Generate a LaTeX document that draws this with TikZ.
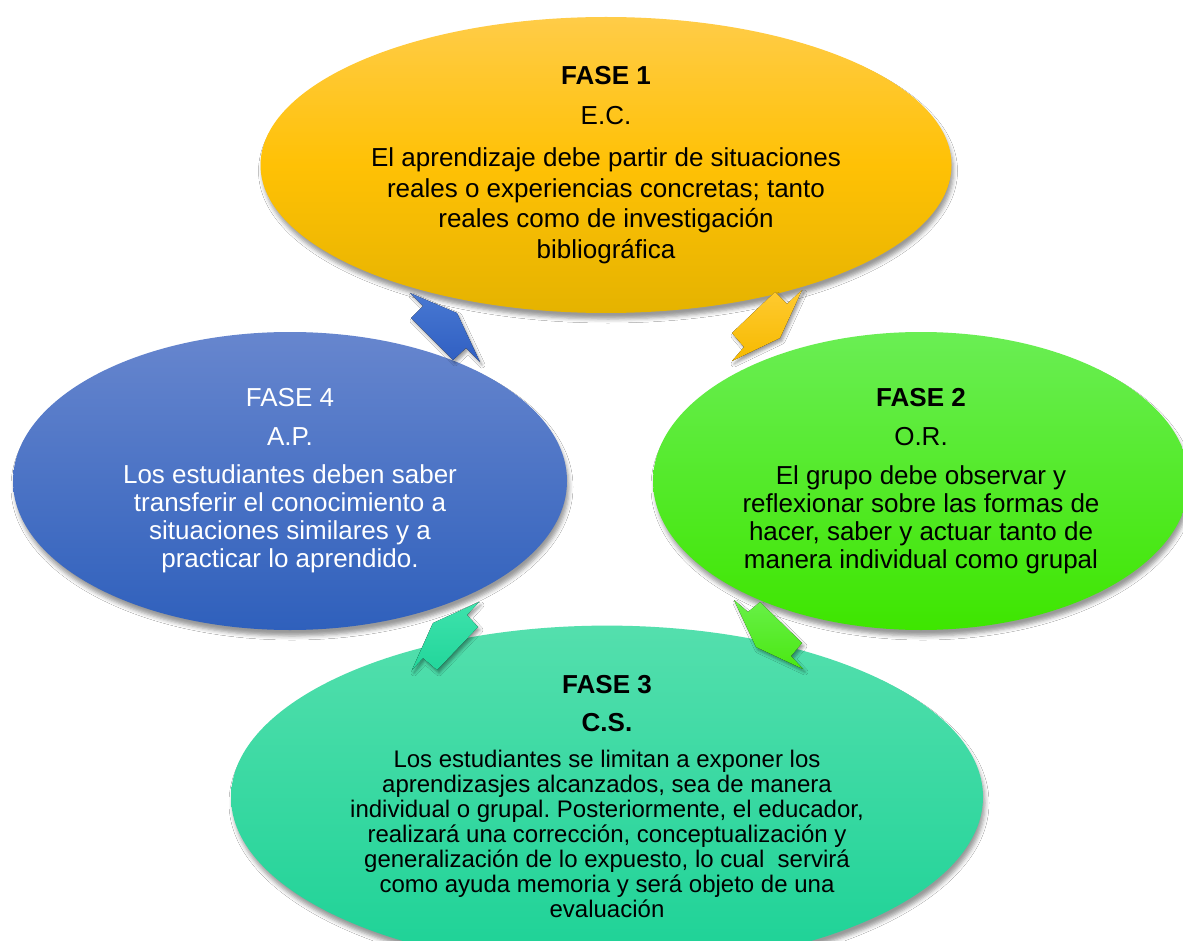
\documentclass[tikz,border=0pt]{standalone}
\usepackage{fontspec}
\setmainfont{Liberation Sans}
\frenchspacing
\usetikzlibrary{shapes.geometric,shadows.blur}
\definecolor{yelT}{RGB}{255,204,72}
\definecolor{yelM}{RGB}{255,193,5}
\definecolor{yelB}{RGB}{229,179,0}
\definecolor{bluT}{RGB}{103,134,206}
\definecolor{bluB}{RGB}{47,96,188}
\definecolor{grnT}{RGB}{106,238,84}
\definecolor{grnB}{RGB}{62,230,0}
\definecolor{teaT}{RGB}{84,223,173}
\definecolor{teaB}{RGB}{28,210,150}
\definecolor{aBluT}{RGB}{72,120,210}
\definecolor{aBluB}{RGB}{48,95,194}
\definecolor{aYelT}{RGB}{255,202,48}
\definecolor{aYelB}{RGB}{246,186,0}
\definecolor{aTeaT}{RGB}{62,226,172}
\definecolor{aTeaB}{RGB}{34,214,155}
\definecolor{aGrnT}{RGB}{104,240,72}
\definecolor{aGrnB}{RGB}{74,232,18}
\tikzset{
  ell/.style={ellipse, inner sep=0pt, align=center, draw=none,
    blur shadow={shadow xshift=2pt, shadow yshift=-6pt, shadow blur radius=4pt, shadow opacity=40}},
  arrowshape/.style={draw=none,
    blur shadow={shadow xshift=2pt, shadow yshift=-3pt, shadow blur radius=3pt, shadow opacity=40}},
}
\begin{document}
\begin{tikzpicture}[x=1pt,y=-1pt]
\useasboundingbox (0,0) rectangle (1183,941);
\fill[white] (0,0) rectangle (1183,941);

% FASE 1
\node[ell, minimum width=691pt, minimum height=296pt, top color=yelT, bottom color=yelB, middle color=yelM,
  font=\fontsize{26}{30.5}\selectfont, text=black] (f1) at (606,165)
  {\textbf{FASE 1}\\[9.5pt] E.C.\\[11.5pt] El aprendizaje debe partir de situaciones\\ reales o experiencias concretas; tanto\\ reales como de investigación\\ bibliográfica};

% FASE 4
\node[ell, minimum width=554pt, minimum height=298pt, top color=bluT, bottom color=bluB,
  font=\fontsize{26}{28}\selectfont, text=white] (f4) at (290,481)
  {FASE 4\\[11pt] A.P.\\[10pt] Los estudiantes deben saber\\ transferir el conocimiento a\\ situaciones similares y a\\ practicar lo aprendido.};

% FASE 2
\node[ell, minimum width=536pt, minimum height=298pt, top color=grnT, bottom color=grnB,
  font=\fontsize{26}{28}\selectfont, text=black] (f2) at (921,481)
  {\textbf{FASE 2}\\[11pt] O.R.\\[11pt] El grupo debe observar y\\ reflexionar sobre las formas de\\ hacer, saber y actuar tanto de\\ manera individual como grupal};

% FASE 3
\node[ell, minimum width=752pt, minimum height=296pt, top color=teaT, bottom color=teaB,
  font=\fontsize{24}{25}\selectfont, text=black] (f3) at (607,797)
  {{\fontsize{26}{25}\selectfont\textbf{FASE 3}}\\[13pt] {\fontsize{26}{25}\selectfont\textbf{C.S.}}\\[11pt]
   Los estudiantes se limitan a exponer los\\ aprendizasjes alcanzados, sea de manera\\
   individual o grupal. Posteriormente, el educador,\\ realizará una corrección, conceptualización y\\
   generalización de lo expuesto, lo cual\ \ servirá\\ como ayuda memoria y será objeto de una\\ evaluación};

% arrows between phases
\fill[arrowshape, top color=aBluT, bottom color=aBluB]
  (410,293) -- (457,313) -- (480,362) -- (466,348) -- (453,360) -- (411,318) -- (423,306) -- cycle;
\fill[arrowshape, top color=aYelT, bottom color=aYelB]
  (775,292) -- (787,304) -- (802,290) -- (780,338) -- (732,361) -- (744,347) -- (732,333) -- cycle;
\fill[arrowshape, top color=aGrnT, bottom color=aGrnB]
  (734,600) -- (748,612) -- (760,602) -- (802,643) -- (791,656) -- (803,669) -- (756,647) -- cycle;
\fill[arrowshape, top color=aTeaT, bottom color=aTeaB]
  (479,602) -- (467,615) -- (478,627) -- (437,670) -- (423,658) -- (412,670) -- (433,623) -- cycle;
\end{tikzpicture}
\end{document}
